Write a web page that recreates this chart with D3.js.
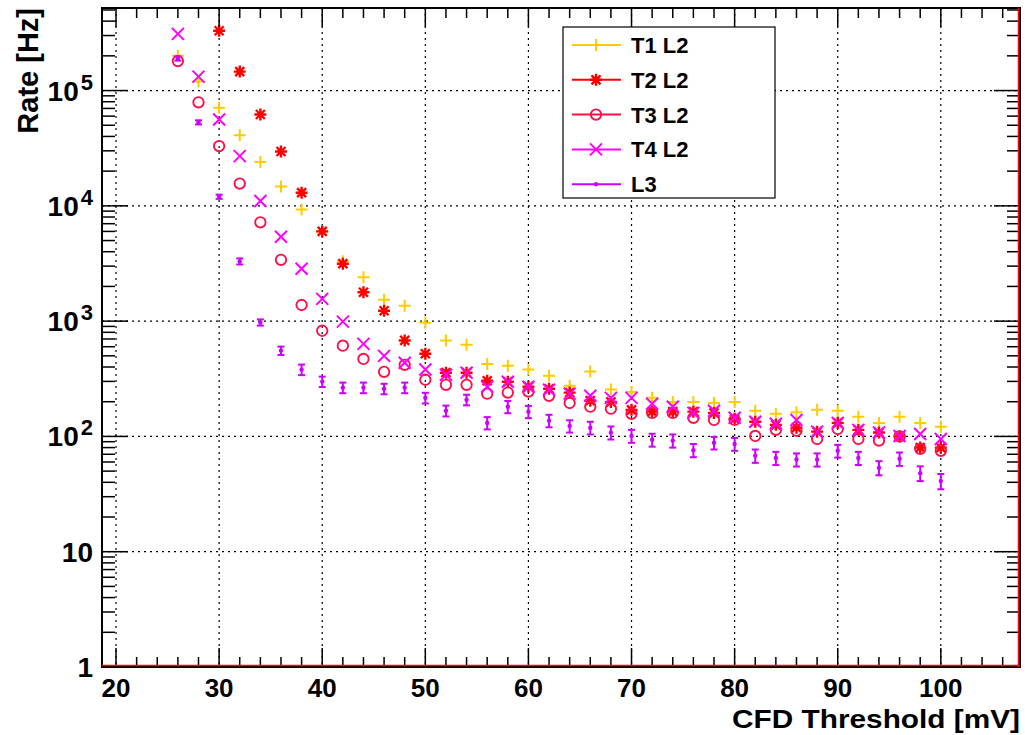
<!DOCTYPE html>
<html>
<head>
<meta charset="utf-8">
<script src="https://cdn.jsdelivr.net/npm/d3@7"></script>
<style>
  body { margin: 0; background: #fff; }
  svg { display: block; font-family: "Liberation Sans", Arial, Helvetica, sans-serif; font-weight: bold; }
</style>
</head>
<body>
<svg id="chart" width="1025" height="735"></svg>
<script>
// CFD threshold scan, rates in Hz
const thresholds = [26, 28, 30, 32, 34, 36, 38, 40, 42, 44, 46, 48, 50, 52, 54, 56, 58, 60, 62,
  64, 66, 68, 70, 72, 74, 76, 78, 80, 82, 84, 86, 88, 90, 92, 94, 96, 98, 100];

const t1L2 = [2.0e5, 1.2e5, 7.1e4, 4.1e4, 2.4e4, 1.47e4, 9.3e3, 6.0e3, 3.3e3, 2.4e3, 1.53e3, 1.36e3,
  970, 680, 625, 425, 410, 380, 336, 275, 365, 255, 243, 216, 199, 199, 195, 199, 167, 157, 162, 170,
  167, 148, 131, 148, 131, 121];
const t2L2 = [null, null, 3.3e5, 1.46e5, 6.2e4, 2.96e4, 1.3e4, 6.0e3, 3.15e3, 1.78e3, 1.23e3, 680,
  521, 357, 357, 304, 298, 270, 259, 240, 204, 199, 170, 164, 164, 164, 160, 142, 134, 126, 119, 110,
  131, 114, 108, 100, 80, 80];
const t3L2 = [1.8e5, 7.9e4, 3.3e4, 1.56e4, 7.2e3, 3.4e3, 1.38e3, 825, 612, 470, 363, 418, 310, 280,
  280, 235, 240, 245, 225, 195, 181, 174, 157, 160, 160, 145, 139, 139, 101, 114, 112, 95, 116, 95,
  92, 100, 78, 75];
const t4L2 = [3.1e5, 1.32e5, 5.6e4, 2.7e4, 1.1e4, 5.4e3, 2.85e3, 1.56e3, 990, 635, 500, 436, 380,
  343, 357, 270, 298, 270, 254, 235, 225, 216, 216, 192, 181, 160, 167, 145, 134, 129, 139, 110, 131,
  114, 108, 101, 105, 95];
const l3 = [1.9e5, 5.3e4, 1.2e4, 3.3e3, 975, 555, 380, 299, 265, 265, 259, 265, 216, 167, 208, 131,
  181, 164, 137, 123, 119, 108, 101, 93.5, 92, 76, 88, 86, 68, 65, 63, 63, 75, 65, 53.5, 64, 48, 41];
const l3Err = [8000, 2200, 500, 200, 60, 46, 40, 31, 28, 28, 27, 28, 23, 18, 22, 16, 22, 20, 17, 15,
  15, 14, 13, 12, 12, 10, 11, 11, 9, 8.5, 8.2, 8.2, 9.5, 8.5, 7.5, 8.5, 7, 6.2];

const seriesNames = ["T1 L2", "T2 L2", "T3 L2", "T4 L2", "L3"];
const xTicks = [20, 30, 40, 50, 60, 70, 80, 90, 100];
const yTicks = [1, 10, 100, 1000, 10000, 100000];

const series = [
  {name: seriesNames[0], values: t1L2, color: "#ffcc00", marker: "plus"},
  {name: seriesNames[1], values: t2L2, color: "#ff0000", marker: "star"},
  {name: seriesNames[2], values: t3L2, color: "#ff1048", marker: "circle"},
  {name: seriesNames[3], values: t4L2, color: "#ff00ff", marker: "cross"},
  {name: seriesNames[4], values: l3, err: l3Err, color: "#cc00ff", marker: "dot"}
];

const svg = d3.select("#chart");
const fLeft = 102, fRight = 1020, fTop = 8, fBottom = 667;

const x = d3.scaleLinear().domain([18.64, 107.68]).range([fLeft, fRight]);
const y = d3.scaleLog().domain([1, 5.2e5]).range([fBottom, fTop]);

svg.append("rect").attr("width", 1025).attr("height", 735).attr("fill", "#fff");

svg.append("defs").append("clipPath").attr("id", "frame")
  .append("rect").attr("x", fLeft).attr("y", fTop).attr("width", fRight - fLeft).attr("height", fBottom - fTop);

// grid
const grid = svg.append("g").attr("stroke", "#000").attr("stroke-width", 1.2).attr("stroke-dasharray", "2,4");
grid.selectAll(".gx").data(xTicks).enter().append("line")
  .attr("x1", d => x(d)).attr("x2", d => x(d)).attr("y1", fTop).attr("y2", fBottom);
grid.selectAll(".gy").data(yTicks.slice(1)).enter().append("line")
  .attr("y1", d => y(d)).attr("y2", d => y(d)).attr("x1", fLeft).attr("x2", fRight);

// markers
function markerPath(type, cx, cy) {
  const p = d3.path();
  const s = 6;
  if (type === "plus" || type === "star") {
    p.moveTo(cx - s, cy); p.lineTo(cx + s, cy);
    p.moveTo(cx, cy - s); p.lineTo(cx, cy + s);
  }
  if (type === "cross" || type === "star") {
    const d = type === "star" ? 4.5 : 6;
    p.moveTo(cx - d, cy - d); p.lineTo(cx + d, cy + d);
    p.moveTo(cx - d, cy + d); p.lineTo(cx + d, cy - d);
  }
  return p.toString();
}

function drawMarker(g, type, color, cx, cy) {
  if (type === "circle") {
    g.append("circle").attr("cx", cx).attr("cy", cy).attr("r", 5.2)
      .attr("fill", "none").attr("stroke", color).attr("stroke-width", 1.9);
  } else if (type === "dot") {
    g.append("circle").attr("cx", cx).attr("cy", cy).attr("r", 2.2).attr("fill", color);
  } else {
    g.append("path").attr("d", markerPath(type, cx, cy))
      .attr("stroke", color).attr("stroke-width", type === "star" ? 2.4 : 2).attr("fill", "none");
  }
}

const plot = svg.append("g").attr("clip-path", "url(#frame)");
series.forEach(s => {
  const g = plot.append("g");
  s.values.forEach((v, i) => {
    if (v == null) return;
    const cx = x(thresholds[i]), cy = y(v);
    if (s.err) {
      const y0 = y(v + s.err[i]), y1 = y(Math.max(v - s.err[i], 1e-3));
      const e = g.append("g").attr("stroke", s.color).attr("stroke-width", 2);
      e.append("line").attr("x1", cx).attr("x2", cx).attr("y1", y0).attr("y2", y1);
      e.append("line").attr("x1", cx - 3.5).attr("x2", cx + 3.5).attr("y1", y0).attr("y2", y0);
      e.append("line").attr("x1", cx - 3.5).attr("x2", cx + 3.5).attr("y1", y1).attr("y2", y1);
    }
    drawMarker(g, s.marker, s.color, cx, cy);
  });
});

// ticks
const ticks = svg.append("g").attr("stroke", "#000").attr("stroke-width", 1.5);
const xMinor = d3.range(20, 107, 2).filter(d => d % 10 !== 0);
const yMinor = [];
[1, 10, 100, 1000, 10000, 100000].forEach(dec => {
  for (let m = 2; m <= 9; m++) if (m * dec <= 5.2e5) yMinor.push(m * dec);
});
const xMaj = 19, xMin = 10, yMaj = 26, yMin = 13;
[[xTicks, xMaj], [xMinor, xMin]].forEach(([vals, len]) => {
  vals.forEach(v => {
    ticks.append("line").attr("x1", x(v)).attr("x2", x(v)).attr("y1", fBottom).attr("y2", fBottom - len);
    ticks.append("line").attr("x1", x(v)).attr("x2", x(v)).attr("y1", fTop).attr("y2", fTop + len);
  });
});
[[yTicks, yMaj], [yMinor, yMin]].forEach(([vals, len]) => {
  vals.forEach(v => {
    ticks.append("line").attr("y1", y(v)).attr("y2", y(v)).attr("x1", fLeft).attr("x2", fLeft + len);
    ticks.append("line").attr("y1", y(v)).attr("y2", y(v)).attr("x1", fRight).attr("x2", fRight - len);
  });
});

// frame
svg.append("rect").attr("x", fLeft).attr("y", fTop).attr("width", fRight - fLeft).attr("height", fBottom - fTop)
  .attr("fill", "none").attr("stroke", "#000").attr("stroke-width", 2);
svg.append("line").attr("x1", fLeft).attr("x2", fRight).attr("y1", fBottom - 1.5).attr("y2", fBottom - 1.5)
  .attr("stroke", "#ff0000").attr("stroke-width", 1.5);
svg.append("line").attr("x1", fRight - 1.5).attr("x2", fRight - 1.5).attr("y1", fTop).attr("y2", fBottom)
  .attr("stroke", "#ff0000").attr("stroke-width", 1.5);

// tick labels
svg.append("g").selectAll("text").data(xTicks).enter().append("text")
  .attr("x", d => x(d)).attr("y", 697).attr("text-anchor", "middle")
  .attr("font-size", 26).text(d => d);

const yl = svg.append("g");
yTicks.forEach(v => {
  const p = Math.round(Math.log10(v));
  const t = yl.append("text").attr("x", 93).attr("y", y(v) + 10).attr("text-anchor", "end").attr("font-size", 28);
  if (p < 2) {
    t.text(v);
  } else {
    t.append("tspan").text("10");
    t.append("tspan").attr("dx", 2).attr("dy", -11).attr("font-size", 22).text(p);
  }
});

// axis titles
svg.append("text").attr("x", fRight).attr("y", 728).attr("text-anchor", "end")
  .attr("font-size", 26).attr("textLength", 288).attr("lengthAdjust", "spacingAndGlyphs")
  .text("CFD Threshold [mV]");
svg.append("text").attr("transform", `translate(38,${fTop}) rotate(-90)`).attr("text-anchor", "end")
  .attr("font-size", 29).text("Rate [Hz]");

// legend
const lg = svg.append("g");
lg.append("rect").attr("x", 563).attr("y", 27).attr("width", 212).attr("height", 171)
  .attr("fill", "#fff").attr("stroke", "#000").attr("stroke-width", 1.2);
series.forEach((s, i) => {
  const cy = 45 + i * 34.8;
  lg.append("line").attr("x1", 572).attr("x2", 621).attr("y1", cy).attr("y2", cy)
    .attr("stroke", s.color).attr("stroke-width", 2);
  drawMarker(lg, s.marker, s.color, 596, cy);
  lg.append("text").attr("x", 631).attr("y", cy + 8).attr("font-size", 22).text(s.name);
});
</script>
</body>
</html>
